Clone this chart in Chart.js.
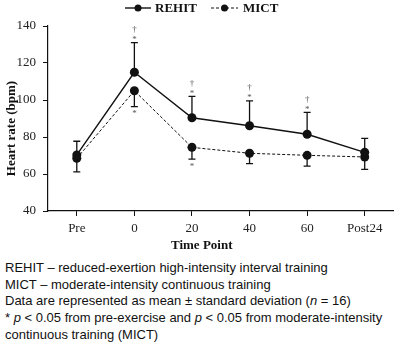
<!DOCTYPE html>
<html>
<head>
<meta charset="utf-8">
<script src="https://cdn.jsdelivr.net/npm/chart.js@4"></script>
<style>
  body { margin: 0; background: #fff; width: 398px; height: 344px; overflow: hidden; position: relative; }
  #chart { position: absolute; left: 0; top: 0; }
  #caption {
    position: absolute; left: 5px; top: 260px;
    font-family: "Liberation Sans", Arial, sans-serif; font-size: 13px; line-height: 16.7px; color: #111;
  }
</style>
</head>
<body>
<canvas id="chart" width="398" height="252"></canvas>
<div id="caption">
  REHIT – reduced-exertion high-intensity interval training<br>
  MICT – moderate-intensity continuous training<br>
  Data are represented as mean ± standard deviation (<i>n</i> = 16)<br>
  * <i>p</i> &lt; 0.05 from pre-exercise and <i>p</i> &lt; 0.05 from moderate-intensity<br>
  continuous training (MICT)
</div>
<script>
const timePoints = ['Pre', '0', '20', '40', '60', 'Post24'];
const rehitMean = [70.3, 115, 90.4, 86.1, 81.5, 71.7];
const rehitSd = [7.4, 16, 11.6, 13.4, 11.8, 7.6];
const mictMean = [68.5, 105, 74.4, 71.2, 70.1, 69.2];
const mictSd = [7.3, 8.6, 6.4, 5.6, 5.8, 6.7];
const rehitMarks = ['', '†*', '†*', '†*', '†*', ''];
const mictMarks = ['', '*', '*', '', '', ''];
const yTicks = [40, 60, 80, 100, 120, 140];

const serif = '"Liberation Serif", "Times New Roman", serif';

// error bars (REHIT up, MICT down) plus significance symbols
const errorBars = {
  id: 'errorBars',
  afterDatasetsDraw(chart) {
    const { ctx, scales: { x, y } } = chart;
    const groups = [
      { mean: rehitMean, sd: rehitSd, dir: -1, marks: rehitMarks },
      { mean: mictMean, sd: mictSd, dir: 1, marks: mictMarks },
    ];
    ctx.save();
    ctx.strokeStyle = '#111';
    ctx.lineWidth = 1.3;
    groups.forEach(g => {
      g.mean.forEach((m, i) => {
        const px = x.getPixelForValue(i);
        const y0 = y.getPixelForValue(m);
        const y1 = y.getPixelForValue(m - g.dir * g.sd[i]);
        ctx.beginPath();
        ctx.moveTo(px, y0); ctx.lineTo(px, y1);
        ctx.moveTo(px - 3.5, y1); ctx.lineTo(px + 3.5, y1);
        ctx.stroke();
        const marks = g.marks[i];
        if (!marks) return;
        ctx.fillStyle = '#555';
        ctx.textAlign = 'center';
        ctx.textBaseline = 'middle';
        ctx.font = '9px ' + serif;
        if (g.dir < 0) {
          // stacked above the cap: last symbol nearest the cap
          const chars = marks.split('');
          chars.reverse().forEach((c, k) => {
            ctx.fillText(c, px, y1 - 5 - k * 8 + (c === '*' ? 2 : 0));
          });
        } else {
          ctx.fillText(marks, px, y1 + 7);
        }
      });
    });
    ctx.restore();
  }
};

// legend line+dot, and axis titles
const extras = {
  id: 'extras',
  afterDraw(chart) {
    const { ctx, chartArea } = chart;
    const ds = chart.data.datasets;
    ctx.save();
    const items = [{ x0: 125, x1: 151, tx: 155 }, { x0: 211, x1: 238, tx: 243 }];
    items.forEach((it, i) => {
      const d = ds[i];
      const ly = 8;
      ctx.strokeStyle = '#111';
      ctx.lineWidth = d.borderWidth;
      ctx.setLineDash(d.borderDash || []);
      ctx.beginPath(); ctx.moveTo(it.x0, ly); ctx.lineTo(it.x1, ly); ctx.stroke();
      ctx.setLineDash([]);
      ctx.fillStyle = '#111';
      ctx.beginPath(); ctx.arc((it.x0 + it.x1) / 2, ly, 3.5, 0, Math.PI * 2); ctx.fill();
      ctx.font = 'bold 13px ' + serif;
      ctx.textBaseline = 'middle';
      ctx.textAlign = 'left';
      ctx.fillText(d.label, it.tx, ly + 1);
    });
    ctx.font = 'bold 13px ' + serif;
    ctx.fillStyle = '#111';
    ctx.textAlign = 'center';
    ctx.textBaseline = 'middle';
    ctx.fillText('Time Point', (chartArea.left + chartArea.right) / 2 - 19, 246);
    ctx.translate(12, (chartArea.top + chartArea.bottom) / 2 + 10);
    ctx.rotate(-Math.PI / 2);
    ctx.fillText('Heart rate (bpm)', 0, 0);
    ctx.restore();
  }
};

new Chart(document.getElementById('chart'), {
  type: 'line',
  data: {
    labels: timePoints,
    datasets: [
      {
        label: 'REHIT', data: rehitMean,
        borderColor: '#111', backgroundColor: '#111', borderWidth: 1.4,
        pointRadius: 4.5, pointBackgroundColor: '#111', pointBorderWidth: 0, tension: 0,
      },
      {
        label: 'MICT', data: mictMean,
        borderColor: '#111', backgroundColor: '#111', borderWidth: 1, borderDash: [3, 2],
        pointRadius: 4.5, pointBackgroundColor: '#111', pointBorderWidth: 0, tension: 0,
      },
    ],
  },
  options: {
    responsive: false,
    devicePixelRatio: 1,
    animation: false,
    layout: { padding: { top: 26, right: 3, left: 0, bottom: 0 } },
    plugins: { legend: { display: false }, tooltip: { enabled: false } },
    scales: {
      x: {
        type: 'category',
        offset: true,
        afterFit: (s) => { s.height = 41; },
        grid: { drawOnChartArea: false, drawTicks: true, tickLength: 5, color: '#111' },
        border: { color: '#111', width: 1.2 },
        ticks: { color: '#222', padding: 5, font: { family: serif, size: 13 } },
      },
      y: {
        min: 40, max: 140,
        afterFit: (s) => { s.width = 48; },
        afterBuildTicks: (s) => { s.ticks = yTicks.map(v => ({ value: v })); },
        grid: { drawOnChartArea: false, drawTicks: true, tickLength: 5, color: '#111' },
        border: { color: '#111', width: 1.2 },
        ticks: { color: '#222', padding: 7, font: { family: serif, size: 13 } },
      },
    },
  },
  plugins: [errorBars, extras],
});
</script>
</body>
</html>
